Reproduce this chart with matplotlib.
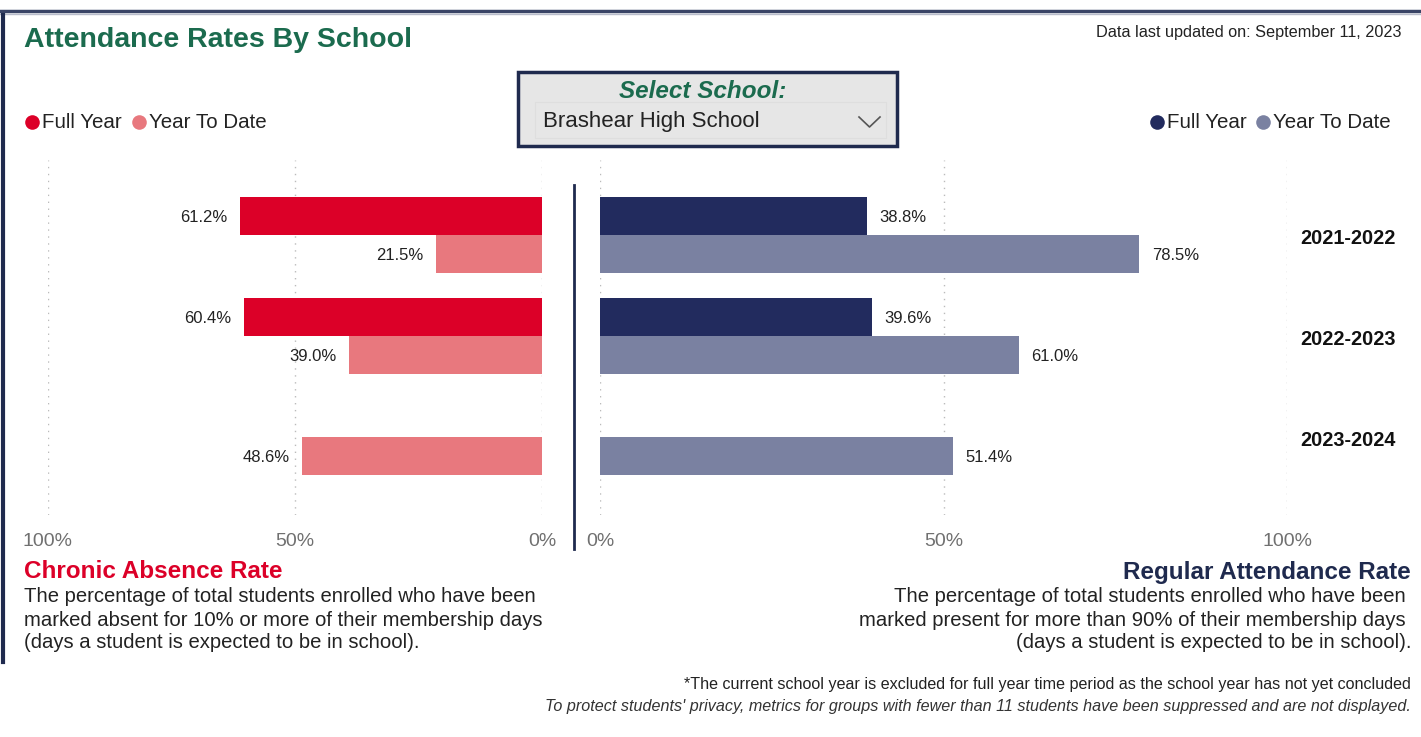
import matplotlib.pyplot as plt
import matplotlib.transforms as mtransforms
from matplotlib.patches import Rectangle
from matplotlib.lines import Line2D
import numpy as np

plt.rcParams['font.family'] = ['Liberation Sans', 'DejaVu Sans']

years = ["2021-2022", "2022-2023", "2023-2024"]
absenceFullYear = [61.2, 60.4, np.nan]
absenceYTD = [21.5, 39.0, 48.6]
attendFullYear = [38.8, 39.6, np.nan]
attendYTD = [78.5, 61.0, 51.4]
tickVals = [0, 50, 100]
tickLabels = ["0%", "50%", "100%"]

W, H = 1421, 737
fig = plt.figure(figsize=(W / 100, H / 100), dpi=100)

def fx(x):
    return x / W

def fy(y):
    return 1 - y / H

def axRect(x0, x1, y0, y1):
    return [fx(x0), fy(y1), fx(x1) - fx(x0), (y1 - y0) / H]

redFull = "#dc0028"
redYTD = "#e8787e"
navyFull = "#222b5e"
navyYTD = "#7a81a1"
green = "#1b6b4e"
navy = "#1f2a4e"

# frame lines
fig.add_artist(Line2D([0, 1], [fy(11), fy(11)], color="#3a4466", lw=2.5))
fig.add_artist(Line2D([0, 1], [fy(13.5), fy(13.5)], color="#b8bccb", lw=1))
fig.add_artist(Line2D([fx(2.5), fx(2.5)], [fy(15), fy(662)], color=navy, lw=3))

# header texts
fig.text(fx(24), fy(40), "Attendance Rates By School", color=green, fontsize=20.5,
         fontweight="bold", va="center", ha="left")
fig.text(fx(1401), fy(32), "Data last updated on: September 11, 2023", color="#222222",
         fontsize=11.7, va="center", ha="right")

# select box
fig.add_artist(Rectangle((fx(518), fy(146)), fx(897) - fx(518), (146 - 72) / H,
                         transform=fig.transFigure, fc="#e6e6e6", ec=navy, lw=2.5))
fig.add_artist(Rectangle((fx(535), fy(138)), fx(886) - fx(535), (138 - 102) / H,
                         transform=fig.transFigure, fc="#e6e6e6", ec="#dedede", lw=0.8))
fig.text(fx(703), fy(92), "Select School:", color=green, fontsize=17.5, fontweight="bold",
         fontstyle="italic", ha="center", va="center")
fig.text(fx(543), fy(122), "Brashear High School", color="#222222", fontsize=16,
         ha="left", va="center")
fig.add_artist(Line2D([fx(859), fx(869.5), fx(880)], [fy(117), fy(127), fy(117)],
                      color="#555555", lw=1.2))

# legends
def legendItem(x, color, label):
    fig.add_artist(Line2D([fx(x)], [fy(122)], marker="o", markersize=10.5,
                          color=color, markeredgewidth=0))
    fig.text(fx(x + 10), fy(123), label, color="#222222", fontsize=14.8,
             ha="left", va="center")

legendItem(32, redFull, "Full Year")
legendItem(139, redYTD, "Year To Date")
legendItem(1157, navyFull, "Full Year")
legendItem(1263, navyYTD, "Year To Date")

# bar axes
pos = np.arange(len(years))
barH = 0.376
ylo = (160 - 235) / 101
yhi = (515 - 235) / 101

axL = fig.add_axes(axRect(48, 542, 160, 515))
axR = fig.add_axes(axRect(600, 1287, 160, 515))

for ax, full, ytd, cFull, cYTD, side in [(axL, absenceFullYear, absenceYTD, redFull, redYTD, -1),
                                         (axR, attendFullYear, attendYTD, navyFull, navyYTD, 1)]:
    ax.barh(pos - barH / 2, full, height=barH, color=cFull)
    ax.barh(pos + barH / 2, ytd, height=barH, color=cYTD)
    for offset, vals in [(-barH / 2, full), (barH / 2, ytd)]:
        for p, v in zip(pos, vals):
            if np.isnan(v):
                continue
            ax.annotate(f"{v:.1f}%", (v, p + offset), xytext=(side * 9, -1),
                        textcoords="offset points", ha="left" if side > 0 else "right",
                        va="center", fontsize=12, color="#222222")
    ax.set_ylim(yhi, ylo)
    ax.set_xticks(tickVals, tickLabels)
    ax.set_yticks([])
    ax.tick_params(axis="x", length=0, pad=13, labelsize=14, labelcolor="#707070")
    ax.grid(axis="x", linestyle=(0, (1, 4)), color="#bbbbbb", lw=1)
    ax.set_axisbelow(True)
    for s in ax.spines.values():
        s.set_visible(False)

axL.set_xlim(100, 0)
axR.set_xlim(0, 100)

trans = mtransforms.blended_transform_factory(axR.transAxes, axR.transData)
for p, yr in zip(pos, years):
    axR.text(1.089, p + 0.03, yr, transform=trans, ha="center", va="center",
             fontsize=14.3, fontweight="bold", color="#111111")

# center divider
fig.add_artist(Line2D([fx(574), fx(574)], [fy(185), fy(549)], color=navy, lw=2))

# bottom descriptions
fig.text(fx(24), fy(572), "Chronic Absence Rate", color=redFull, fontsize=17.5,
         fontweight="bold", ha="left", va="center")
leftDesc = ["The percentage of total students enrolled who have been",
            "marked absent for 10% or more of their membership days",
            "(days a student is expected to be in school)."]
for i, line in enumerate(leftDesc):
    fig.text(fx(24), fy(597 + 23 * i), line, color="#222222", fontsize=14.6,
             ha="left", va="center")

fig.text(fx(1411), fy(572), "Regular Attendance Rate", color=navy, fontsize=17.5,
         fontweight="bold", ha="right", va="center")
rightDesc = ["The percentage of total students enrolled who have been",
             "marked present for more than 90% of their membership days",
             "(days a student is expected to be in school)."]
for i, line in enumerate(rightDesc):
    fig.text(fx(1406 if i < 2 else 1411), fy(597 + 23 * i), line, color="#222222",
             fontsize=14.6, ha="right", va="center")

fig.text(fx(1411), fy(685), "*The current school year is excluded for full year time period as the school year has not yet concluded",
         color="#222222", fontsize=11.6, ha="right", va="center")
fig.text(fx(1411), fy(707), "To protect students' privacy, metrics for groups with fewer than 11 students have been suppressed and are not displayed.",
         color="#333333", fontsize=11.6, fontstyle="italic", ha="right", va="center")

fig.savefig("out.png", dpi=100)
